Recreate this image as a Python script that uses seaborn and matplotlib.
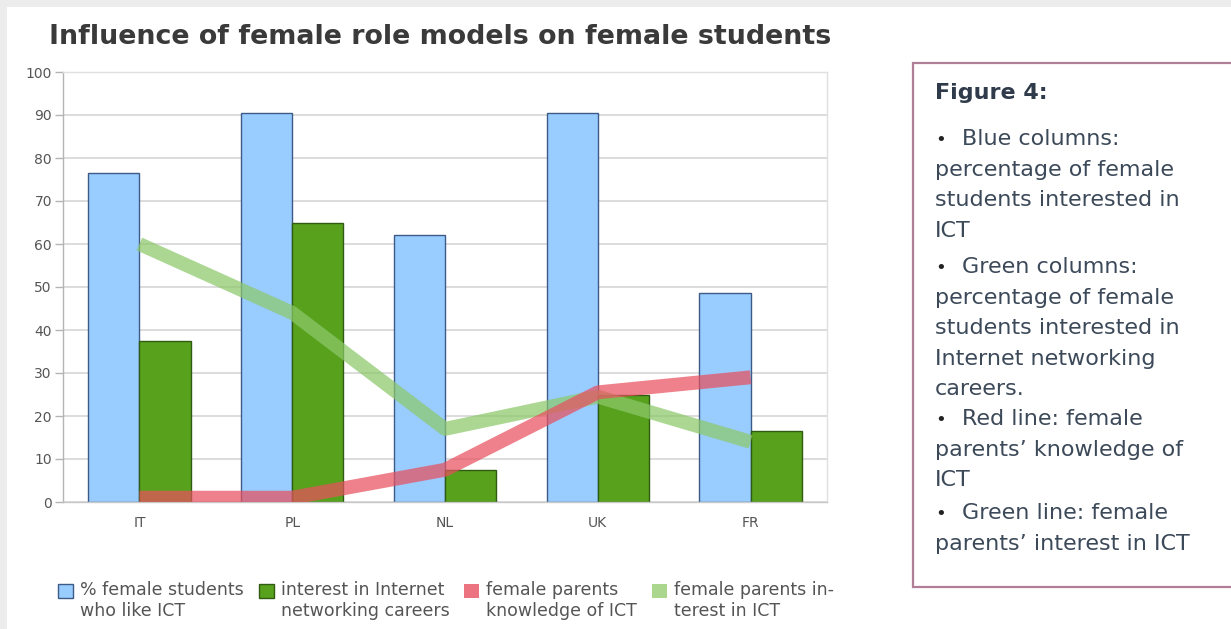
import numpy as np
import pandas as pd
import matplotlib
matplotlib.use("Agg")
import matplotlib.pyplot as plt
import seaborn as sns
from matplotlib.patches import Patch, Rectangle
from matplotlib.legend_handler import HandlerPatch

# ---- data ----
countries = ["IT", "PL", "NL", "UK", "FR"]
students_like_ict = [76.5, 90.5, 62, 90.5, 48.5]
networking_interest = [37.5, 65, 7.5, 25, 16.5]
parents_knowledge = [1, 1, 7.5, 25.5, 29]
parents_interest = [60, 44, 17, 24.5, 14]

series_labels = [
    "% female students\nwho like ICT",
    "interest in Internet\nnetworking careers",
    "female parents\nknowledge of ICT",
    "female parents in-\nterest in ICT",
]
y_ticks = list(range(0, 101, 10))

title = "Influence of female role models on female students"
notes_heading = "Figure 4:"
notes = [
    ("Blue columns:", ["percentage of female", "students interested in", "ICT"]),
    ("Green columns:", ["percentage of female", "students interested in",
                        "Internet networking", "careers."]),
    ("Red line: female", ["parents\u2019 knowledge of", "ICT"]),
    ("Green line: female", ["parents\u2019 interest in ICT"]),
]

# ---- styling ----
BLUE, BLUE_EDGE = "#99ccff", "#3d5b86"
GREEN, GREEN_EDGE = "#57a11c", "#2f5c12"
RED_LINE, GREEN_LINE = "#e8505e", "#8cc86a"
TEXT = "#3c4959"

sns.set_theme(style="white")
plt.rcParams["font.family"] = ["DejaVu Sans"]

W, H = 1231, 629
fig = plt.figure(figsize=(W / 100, H / 100), dpi=100)
fig.patch.set_facecolor("white")


def fx(px):
    return px / W


def fy(py):
    return 1 - py / H


# faint page margin along the top and left edges
fig.patches.append(Rectangle((0, fy(7)), 1, 7 / H, transform=fig.transFigure,
                             facecolor="#ececec", edgecolor="none", zorder=0))
fig.patches.append(Rectangle((0, 0), 7 / W, 1, transform=fig.transFigure,
                             facecolor="#ececec", edgecolor="none", zorder=0))

ax = fig.add_axes([fx(63), fy(502), fx(827) - fx(63), fy(72) - fy(502)])

bars = pd.DataFrame({
    "country": countries * 2,
    "series": [series_labels[0]] * len(countries) + [series_labels[1]] * len(countries),
    "value": students_like_ict + networking_interest,
})
sns.barplot(data=bars, x="country", y="value", hue="series",
            palette=[BLUE, GREEN], width=0.67, saturation=1,
            legend=False, ax=ax, zorder=2)
for cont, ec in zip(ax.containers, [BLUE_EDGE, GREEN_EDGE]):
    for p in cont:
        p.set_edgecolor(ec)
        p.set_linewidth(1.0)

xpos = np.arange(len(countries))
sns.lineplot(x=xpos, y=parents_interest, color=GREEN_LINE, linewidth=10,
             alpha=0.72, ax=ax, solid_capstyle="butt", zorder=3)
sns.lineplot(x=xpos, y=parents_knowledge, color=RED_LINE, linewidth=10,
             alpha=0.72, ax=ax, solid_capstyle="butt", zorder=4)

ax.set_xlim(-0.5, len(countries) - 0.5)
ax.set_ylim(0, 100)
ax.set_yticks(y_ticks)
ax.set_xticks(xpos)
ax.set_xticklabels(countries)
ax.set_xlabel("")
ax.set_ylabel("")
ax.set_axisbelow(True)
ax.yaxis.grid(True, color="#d6d6d6", linewidth=1.2)
ax.xaxis.grid(False)
for side, col in [("left", "#b4b4b4"), ("bottom", "#c8c8c8"),
                  ("top", "#e0e0e0"), ("right", "#e0e0e0")]:
    ax.spines[side].set_color(col)
    ax.spines[side].set_linewidth(1.0)
ax.tick_params(axis="y", left=True, length=6, width=1, color="#b4b4b4",
               labelsize=10, labelcolor="#555555", pad=2)
ax.tick_params(axis="x", length=0, labelsize=10, labelcolor="#555555", pad=10)

# title
fig.text(fx(440), fy(37), title, ha="center", va="center", fontsize=19.4,
         fontweight="bold", color="#3a3a3a")


# legend below the plot; keys sit level with the first line of each label
def raised_square(legend, orig_handle, xdescent, ydescent, width, height, fontsize):
    return Rectangle((-xdescent, -ydescent + 0.58 * fontsize), width, height)


handles = [
    Patch(facecolor=BLUE, edgecolor=BLUE_EDGE, linewidth=1.0),
    Patch(facecolor=GREEN, edgecolor=GREEN_EDGE, linewidth=1.0),
    Patch(facecolor="#ec7480", edgecolor="none"),
    Patch(facecolor="#aad68e", edgecolor="none"),
]
fig.legend(handles, series_labels, loc="upper left",
           bbox_to_anchor=(fx(58), fy(581)), ncol=4, frameon=False,
           fontsize=12.5, handlelength=0.87, handleheight=0.87,
           handletextpad=0.4, columnspacing=0.85, borderpad=0,
           borderaxespad=0, labelcolor="#555555",
           handler_map={Patch: HandlerPatch(patch_func=raised_square)})

# notes panel on the right
fig.patches.append(Rectangle((fx(913), fy(587)), 0.4, fy(63) - fy(587),
                             transform=fig.transFigure, facecolor="white",
                             edgecolor="#b07f97", linewidth=1.6, zorder=0))
x_text, x_item = fx(935), fx(962)
fig.text(x_text, fy(99), notes_heading, ha="left", va="baseline",
         fontsize=16, fontweight="bold", color="#2f3b4b")
line_step = 30.6
item_baselines = [145, 273, 425, 519]
for (head, rest), y in zip(notes, item_baselines):
    fig.text(x_text, fy(y), "\u2022", ha="left", va="baseline",
             fontsize=13, color="#222222")
    fig.text(x_item, fy(y), head, ha="left", va="baseline",
             fontsize=16, color=TEXT)
    for i, line in enumerate(rest, start=1):
        fig.text(x_text, fy(y + i * line_step), line, ha="left", va="baseline",
                 fontsize=16, color=TEXT)

fig.savefig("out.png", dpi=100)
